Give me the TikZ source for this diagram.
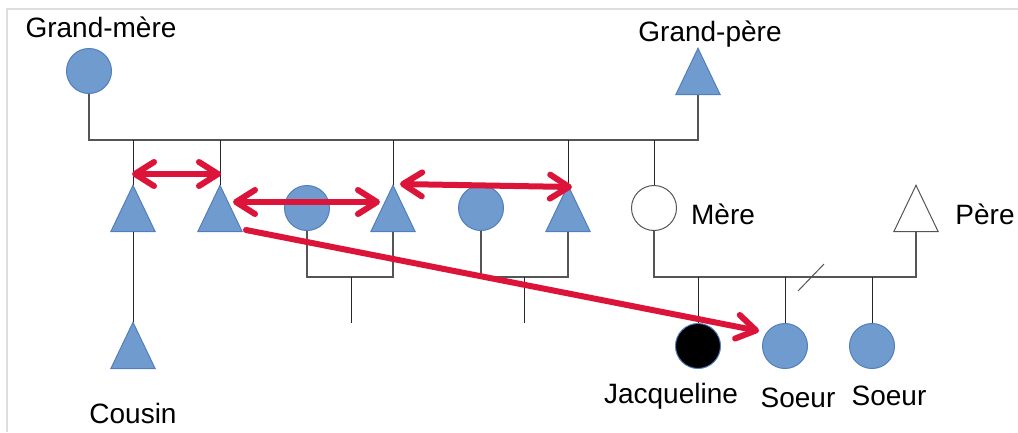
\documentclass[tikz,border=0pt]{standalone}
\usepackage{fontspec}
\setmainfont{Liberation Sans}
\usetikzlibrary{arrows.meta}
\definecolor{bfill}{RGB}{112,155,207}
\definecolor{bline}{RGB}{82,127,187}
\definecolor{rarrow}{RGB}{221,20,58}
\definecolor{frame}{RGB}{222,222,222}
\definecolor{kin}{RGB}{85,85,85}
\begin{document}
\begin{tikzpicture}[x=1pt,y=-1pt,
  circ/.style={circle, minimum size=45pt, inner sep=0pt, draw=bline, fill=bfill, line width=1pt},
  wcirc/.style={circle, minimum size=45pt, inner sep=0pt, draw=kin, fill=white, line width=1pt},
  kcirc/.style={circle, minimum size=45pt, inner sep=0pt, draw=bline, fill=black, line width=1pt},
  tribox/.style={minimum width=44pt, minimum height=46pt, inner sep=0pt},
  tri/.style={draw=bline, fill=bfill, line width=1pt, line join=miter},
  wtri/.style={draw=kin, fill=white, line width=1pt},
  lbl/.style={font=\fontsize{28}{32}\selectfont, anchor=base, inner sep=0pt},
  kinline/.style={draw=kin, line width=1.6pt},
  sibline/.style={draw=black!85, line width=1pt},
  rel/.style={draw=rarrow, line width=6pt, line cap=round,
    >={Straight Barb[length=19pt, width=24pt, line cap=round, line join=round]}}
]
\useasboundingbox (0,0) rectangle (1018,432);
% frame
\draw[frame, line width=2pt] (7,432) -- (7,9) -- (1018,9);

% nodes
\node[circ] (gm) at (89,71) {};
\node[tribox] (gp) at (698,71.5) {};
\node[tribox] (t1) at (133,208.5) {};
\node[tribox] (t2) at (220,208.5) {};
\node[circ] (c1) at (307,208) {};
\node[tribox] (t3) at (393,208.5) {};
\node[circ] (c2) at (481,208) {};
\node[tribox] (t4) at (568,208.5) {};
\node[wcirc] (mere) at (654,208) {};
\node[tribox] (pere) at (916,208.5) {};
\node[tribox] (cousin) at (133,345.5) {};
\node[kcirc] (jac) at (698,346) {};
\node[circ] (s1) at (785,346) {};
\node[circ] (s2) at (872,346) {};

\foreach \t in {gp,t1,t2,t3,t4,cousin}
  \draw[tri] (\t.north) -- (\t.south east) -- (\t.south west) -- cycle;
\draw[wtri] (pere.north) -- (pere.south east) -- (pere.south west) -- cycle;

% labels
\node[lbl] (lgm) at (101,37) {Grand-mère};
\node[lbl] (lgp) at (710,41) {Grand-père};
\node[lbl] (lmere) at (723,224) {Mère};
\node[lbl] (lpere) at (985,224) {Père};
\node[lbl] (lcousin) at (133,423) {Cousin};
\node[lbl] (ljac) at (671,403) {Jacqueline};
\node[lbl] (ls1) at (798,407) {Soeur};
\node[lbl] (ls2) at (889,405) {Soeur};

% grandparents' sibship line
\coordinate (g0) at (89,140);
\draw[kinline] (gm.south) -- (g0) -| (gp.south);
\foreach \n in {t1,t2,t3,t4,mere}
  \draw[sibline] (\n.north |- g0) -- (\n.north);
\draw[sibline] (t1.south) -- (cousin.north);

% couple 1
\coordinate (m1) at (351,277);
\coordinate (d1) at (351,323);
\draw[kinline, line width=1.2pt] (c1.south) -- (c1.south |- m1) -- (t3.south |- m1) -- (t3.south);
\draw[sibline] (m1) -- (d1);
% couple 2
\coordinate (m2) at (524,277);
\coordinate (d2) at (524,323);
\draw[kinline, line width=1.2pt] (c2.south) -- (c2.south |- m2) -- (t4.south |- m2) -- (t4.south);
\draw[sibline] (m2) -- (d2);
% parents
\coordinate (m3) at (786,277);
\draw[kinline] (mere.south) -- (mere.south |- m3) -- (pere.south |- m3) -- (pere.south);
\foreach \n in {jac,s1,s2}
  \draw[sibline] (\n.north |- m3) -- (\n.north);
\coordinate (sl1) at (798,291);
\coordinate (sl2) at (824,264);
\draw[kinline, line width=1pt] (sl1) -- (sl2);

% red arrows
\coordinate (a1) at (132,174);
\coordinate (a2) at (221,174);
\coordinate (b1) at (233,202);
\coordinate (b2) at (380,202);
\coordinate (e1) at (400,184);
\coordinate (e2) at (572,187);
\coordinate (f1) at (246,230);
\coordinate (f2) at (759,331);
\draw[rel, <->] (a1) -- (a2);
\draw[rel, <->] (b1) -- (b2);
\draw[rel, <->] (e1) -- (e2);
\draw[rel, ->] (f1) -- (f2);
\end{tikzpicture}
\end{document}
